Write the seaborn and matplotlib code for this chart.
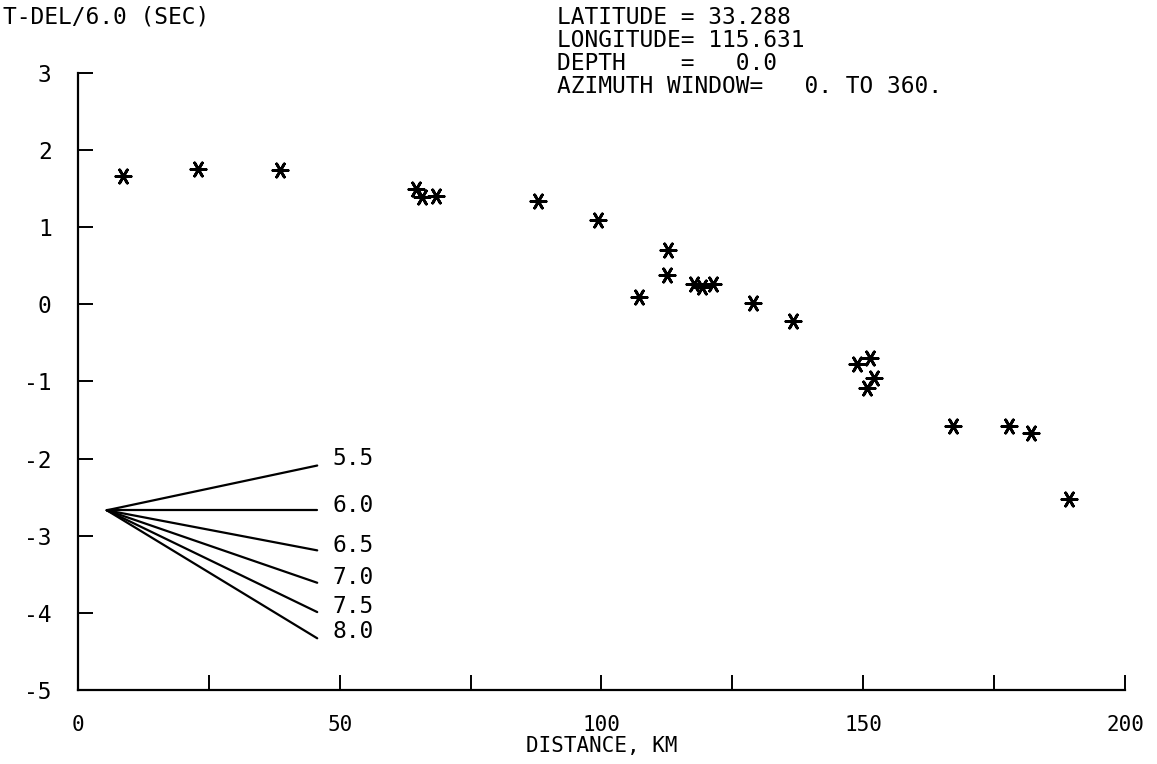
import matplotlib
matplotlib.use("Agg")
import matplotlib.pyplot as plt
import seaborn as sns
import pandas as pd

DIST_KM = [8.6, 22.9, 38.6, 64.6, 65.8, 68.4, 87.8, 99.4, 112.8, 112.5,
           107.1, 117.7, 119.2, 121.4, 128.9, 136.5, 148.8, 151.3, 152.0,
           150.7, 167.2, 177.8, 182.1, 189.3]
T_RED = [1.66, 1.75, 1.74, 1.49, 1.39, 1.40, 1.34, 1.09, 0.70, 0.38,
         0.09, 0.27, 0.22, 0.27, 0.02, -0.21, -0.78, -0.70, -0.95,
         -1.08, -1.58, -1.58, -1.67, -2.52]

# Geschwindigkeits-Faecher (Skala unten links)
FAN_LABELS = ["5.5", "6.0", "6.5", "7.0", "7.5", "8.0"]
FAN_X0, FAN_Y0 = 5.5, -2.67
FAN_X1 = 45.7
FAN_END_Y = [-2.09, -2.67, -3.19, -3.61, -3.99, -4.33]
FAN_LABEL_Y = [-2.0, -2.61, -3.13, -3.54, -3.92, -4.24]

X_TICKS = [0, 25, 50, 75, 100, 125, 150, 175, 200]
X_TICKLABELS = ["0", "", "50", "", "100", "", "150", "", "200"]
Y_TICKS = [-5, -4, -3, -2, -1, 0, 1, 2, 3]

HEADER = ["LATITUDE = 33.288",
          "LONGITUDE= 115.631",
          "DEPTH    =   0.0",
          "AZIMUTH WINDOW=   0. TO 360."]

sns.set_style("white")
plt.rcParams['font.family'] = ['DejaVu Sans Mono', 'DejaVu Sans']
plt.rcParams['text.color'] = 'black'
plt.rcParams['axes.labelcolor'] = 'black'
FS = 16.5
FS_AX = 15

fig = plt.figure(figsize=(11.57, 7.64), dpi=100)
ax = fig.add_axes([0.0674, 0.0969, 0.9049, 0.8076])

df = pd.DataFrame({"dist": DIST_KM, "t": T_RED})
sns.scatterplot(data=df, x="dist", y="t", ax=ax, marker=(6, 2, 90),
                s=120, color="black", edgecolor="black", linewidth=2.0)

# Faecher zeichnen
for lab, y1, ly in zip(FAN_LABELS, FAN_END_Y, FAN_LABEL_Y):
    ax.plot([FAN_X0, FAN_X1], [FAN_Y0, y1], color="black", lw=1.6)
    ax.text(FAN_X1 + 3, ly, lab, fontsize=FS, va="center", ha="left")

ax.set_xlim(0, 200)
ax.set_ylim(-5, 3)
ax.set_xticks(X_TICKS)
ax.set_xticklabels(X_TICKLABELS)
ax.set_yticks(Y_TICKS)
ax.set_yticklabels([str(v) for v in Y_TICKS])

sns.despine(ax=ax)
for side in ["left", "bottom"]:
    ax.spines[side].set_linewidth(1.6)
    ax.spines[side].set_color("black")

ax.tick_params(axis="x", bottom=True, direction="in", length=11, width=1.4,
               pad=18, labelsize=FS_AX, colors="black")
ax.tick_params(axis="y", left=True, direction="in", length=11, width=1.4,
               pad=19, labelsize=FS, colors="black")
ax.set_xlabel("DISTANCE, KM", fontsize=FS_AX, labelpad=1)
ax.set_ylabel("")

fig.text(0.003, 0.978, "T-DEL/6.0 (SEC)", fontsize=FS, va="center", ha="left")
for i, line in enumerate(HEADER):
    fig.text(0.481, 0.977 - i * 0.0301, line, fontsize=FS,
             va="center", ha="left")

fig.savefig("out.png", dpi=100, facecolor="white")
